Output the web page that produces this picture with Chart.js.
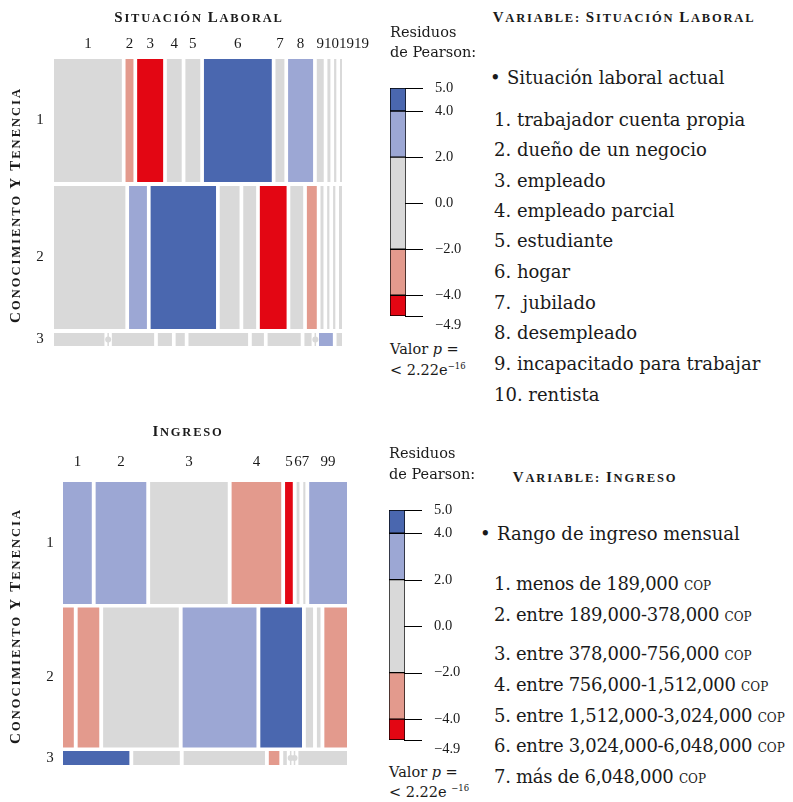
<!DOCTYPE html>
<html>
<head>
<meta charset="utf-8">
<script src="https://cdn.jsdelivr.net/npm/chart.js@4.4.0/dist/chart.umd.min.js"></script>
<style>
  body { margin: 0; background: #fff; width: 793px; height: 802px; position: relative; overflow: hidden;
         font-family: "DejaVu Serif", serif; color: #1a1a1a; }
  canvas { position: absolute; }
  .t { position: absolute; white-space: nowrap; line-height: 1; transform: translateY(-50%); }
  .tc { position: absolute; white-space: nowrap; line-height: 1; transform: translate(-50%, -50%); }
  .sc { font-family: "Liberation Serif", serif; font-weight: bold; font-size: 12.5px; letter-spacing: 1.8px; }
  .sc b { font-size: 15px; }
  .ytitle { position: absolute; white-space: nowrap; line-height: 1; font-family: "Liberation Serif", serif;
            font-weight: bold; font-size: 12.5px; letter-spacing: 2px;
            transform: translate(-50%, -50%) rotate(-90deg); }
  .ytitle b { font-size: 15px; }
  .item { font-size: 18px; }
  .money { letter-spacing: -0.3px; }
  .cop { font-size: 12px; letter-spacing: 0; }
  .leg { font-size: 14.5px; }
  .pv { font-size: 14.5px; }
  .pv sup { font-size: 8.5px; }
</style>
</head>
<body>
<canvas id="mosaicSit" width="380" height="400" style="left:0;top:0"></canvas>
<canvas id="legendSit" width="100" height="270" style="left:380px;top:70px"></canvas>
<canvas id="mosaicIng" width="370" height="390" style="left:0;top:410px"></canvas>
<canvas id="legendIng" width="100" height="270" style="left:379px;top:492px"></canvas>

<!-- top panel text -->
<div class="tc sc" style="left:199px;top:17px"><b>S</b>ITUACIÓN <b>L</b>ABORAL</div>
<div class="ytitle" style="left:15px;top:205px"><b>C</b>ONOCIMIENTO <b>Y</b> <b>T</b>ENENCIA</div>
<div class="t leg" style="left:390px;top:32px">Residuos</div>
<div class="t leg" style="left:390px;top:52px">de Pearson:</div>
<div class="t pv" style="left:390px;top:349px">Valor <i>p</i> =</div>
<div class="t pv" style="left:390px;top:370px">&lt; 2.22e<sup>−16</sup></div>
<div class="tc sc" style="left:624px;top:17px"><b>V</b>ARIABLE: <b>S</b>ITUACIÓN <b>L</b>ABORAL</div>
<div class="t item" style="left:490px;top:78px">•</div>
<div class="t item" style="left:507px;top:78px">Situación laboral actual</div>
<div class="t item" style="left:494px;top:120px">1. trabajador cuenta propia</div>
<div class="t item" style="left:494px;top:150px">2. dueño de un negocio</div>
<div class="t item" style="left:494px;top:181px">3. empleado</div>
<div class="t item" style="left:494px;top:211px">4. empleado parcial</div>
<div class="t item" style="left:494px;top:241px">5. estudiante</div>
<div class="t item" style="left:494px;top:272px">6. hogar</div>
<div class="t item" style="left:494px;top:303px">7.&nbsp; jubilado</div>
<div class="t item" style="left:494px;top:333px">8. desempleado</div>
<div class="t item" style="left:494px;top:364px">9. incapacitado para trabajar</div>
<div class="t item" style="left:494px;top:395px">10. rentista</div>

<!-- bottom panel text -->
<div class="tc sc" style="left:188px;top:431px"><b>I</b>NGRESO</div>
<div class="ytitle" style="left:15px;top:626px"><b>C</b>ONOCIMIENTO <b>Y</b> <b>T</b>ENENCIA</div>
<div class="t leg" style="left:389px;top:453px">Residuos</div>
<div class="t leg" style="left:389px;top:474px">de Pearson:</div>
<div class="t pv" style="left:389px;top:772px">Valor <i>p</i> =</div>
<div class="t pv" style="left:389px;top:792px">&lt; 2.22e <sup>−16</sup></div>
<div class="tc sc" style="left:595px;top:477px"><b>V</b>ARIABLE: <b>I</b>NGRESO</div>
<div class="t item" style="left:480px;top:534px">•</div>
<div class="t item" style="left:497px;top:534px">Rango de ingreso mensual</div>
<div class="t item money" style="left:494px;top:584px">1. menos de 189,000 <span class="cop">COP</span></div>
<div class="t item money" style="left:494px;top:615px">2. entre 189,000-378,000 <span class="cop">COP</span></div>
<div class="t item money" style="left:494px;top:654px">3. entre 378,000-756,000 <span class="cop">COP</span></div>
<div class="t item money" style="left:494px;top:685px">4. entre 756,000-1,512,000 <span class="cop">COP</span></div>
<div class="t item money" style="left:494px;top:716px">5. entre 1,512,000-3,024,000 <span class="cop">COP</span></div>
<div class="t item money" style="left:494px;top:746px">6. entre 3,024,000-6,048,000 <span class="cop">COP</span></div>
<div class="t item money" style="left:494px;top:777px">7. más de 6,048,000 <span class="cop">COP</span></div>

<script>
// shading scale for Pearson residuals
const legendBreaks = [-4.9, -4, -2, 2, 4, 5];
const legendFills = ['#e30613', '#e39a8d', '#d9d9d9', '#9ca7d4', '#4a67af'];
const legendTicks = [5, 4, 2, 0, -2, -4, -4.9];

// rows: conocimiento y tenencia
const conocRows = ['1', '2', '3'];

// situación laboral: column categories, row shares (%), within-row shares (%), residuals
const sitCols = ['1', '2', '3', '4', '5', '6', '7', '8', '9', '10', '19', '19'];
const sitRowShare = [44.1, 51.3, 4.7];
const sitRow1 = [27.4, 3.2, 10.5, 6.0, 6.0, 27.4, 3.6, 10.1, 2.8, 1.2, 0.9, 0.8];
const sitRow2 = [28.8, 7.2, 26.4, 8.0, 5.2, 10.8, 5.2, 4.0, 1.2, 0.9, 0.9, 1.2];
const sitRow3 = [20.4, 0, 17.1, 5.7, 3.7, 24.1, 4.9, 13.4, 2.9, 0, 5.6, 2.2];
const sitRes1 = [0.5, -2.5, -4.5, 1.0, 0.5, 4.5, -1.0, 3.0, 0.5, 0.3, 0.2, 0.2];
const sitRes2 = [-0.5, 2.5, 4.5, -1.0, -0.5, -4.5, 1.0, -3.0, -0.5, -0.3, -0.2, -0.2];
const sitRes3 = [0.5, -0.8, 0.5, 0.3, 0.2, -0.2, 0.3, 0.5, 0.3, -0.6, 3.0, 0.5];

// ingreso
const ingCols = ['1', '2', '3', '4', '5', '6', '7', '99'];
const ingRowShare = [44.2, 50.7, 5.1];
const ingRow1 = [11.2, 19.7, 30.2, 19.3, 3.0, 1.1, 0.8, 14.7];
const ingRow2 = [4.2, 8.4, 29.4, 28.7, 16.2, 2.8, 1.4, 8.8];
const ingRow3 = [25.8, 18.1, 31.6, 4.1, 1.4, 0, 0, 18.9];
const ingRes1 = [3.0, 3.0, 0.5, -3.0, -4.5, -0.5, -0.5, 3.0];
const ingRes2 = [-3.0, -3.0, -0.5, 3.0, 4.5, 0.5, 0.5, -3.0];
const ingRes3 = [4.5, 1.0, 0.5, -2.5, -0.5, -0.7, -0.5, 0.5];

const textColor = '#1a1a1a';
const zeroColor = '#d9d9d9';
const serif = '"Liberation Serif", "Times New Roman", serif';

function residColor(r) {
    for (let i = 0; i < legendFills.length; i++) {
        if (r <= legendBreaks[i + 1]) return legendFills[i];
    }
    return legendFills[legendFills.length - 1];
}

function fmtTick(v) {
    return v.toFixed(1).replace('-', '\u2212');
}

function makeMosaic(id, cols, rows, rowShare, props, resid, opts) {
    const datasets = [];
    const colCenters = [];
    const rowCenters = [];
    const shareSum = rowShare.reduce((a, b) => a + b, 0);
    const usableY = 1 - opts.gapY * (rows.length - 1);
    const usableX = 1 - opts.gapX * (cols.length - 1);
    let y0 = 0;

    rows.forEach((r, i) => {
        const y1 = y0 + rowShare[i] / shareSum * usableY;
        rowCenters.push((y0 + y1) / 2);
        const rowSum = props[i].reduce((a, b) => a + b, 0);
        let x0 = 0;
        props[i].forEach((p, j) => {
            const x1 = x0 + p / rowSum * usableX;
            if (i === 0) colCenters.push((x0 + x1) / 2);
            if (p === 0) {
                // empty cell: thin line with a dot
                datasets.push({
                    data: [{x: x0, y: y0}, {x: x0, y: (y0 + y1) / 2}, {x: x0, y: y1}],
                    borderColor: zeroColor,
                    borderWidth: 1.5,
                    pointRadius: c => c.dataIndex === 1 ? 3 : 0,
                    pointBackgroundColor: zeroColor,
                    pointBorderWidth: 0,
                    fill: false
                });
            } else {
                datasets.push({
                    data: [{x: x0, y: y0}, {x: x1, y: y0}, {x: x1, y: y1}, {x: x0, y: y1}],
                    backgroundColor: residColor(resid[i][j]),
                    borderColor: 'transparent',
                    borderWidth: 0,
                    pointRadius: 0,
                    fill: 'shape'
                });
            }
            x0 = x1 + opts.gapX;
        });
        y0 = y1 + opts.gapY;
    });

    const labelPlugin = {
        id: 'mosaicLabels',
        afterDraw(chart) {
            const {ctx, chartArea, scales: {x, y}} = chart;
            ctx.save();
            ctx.font = '15px ' + serif;
            ctx.fillStyle = textColor;
            ctx.textBaseline = 'middle';
            ctx.textAlign = 'left';
            // column labels, pushed right when they would overlap
            let prevRight = -Infinity;
            cols.forEach((c, j) => {
                const w = ctx.measureText(c).width;
                let left = x.getPixelForValue(colCenters[j]) - w / 2;
                if (left < prevRight) left = prevRight;
                ctx.fillText(c, left, chartArea.top - opts.colLabelOffset);
                prevRight = left + w;
            });
            ctx.textAlign = 'center';
            rows.forEach((r, i) => {
                ctx.fillText(r, chartArea.left - opts.rowLabelOffset, y.getPixelForValue(rowCenters[i]));
            });
            ctx.restore();
        }
    };

    return new Chart(document.getElementById(id), {
        type: 'line',
        data: {datasets},
        options: {
            responsive: false,
            animation: false,
            events: [],
            layout: {padding: opts.padding},
            elements: {line: {tension: 0}},
            plugins: {legend: {display: false}, tooltip: {enabled: false}},
            scales: {
                x: {type: 'linear', min: 0, max: 1, display: false},
                y: {type: 'linear', min: 0, max: 1, reverse: true, display: false}
            }
        },
        plugins: [labelPlugin]
    });
}

// tick marks to the right of the colour bar, placed by the y scale
const tickMarks = {
    id: 'tickMarks',
    afterDraw(chart) {
        const {ctx, chartArea, scales: {y}} = chart;
        ctx.save();
        ctx.strokeStyle = '#000';
        ctx.lineWidth = 1;
        y.ticks.forEach(t => {
            const py = Math.round(y.getPixelForValue(t.value)) + 0.5;
            ctx.beginPath();
            ctx.moveTo(chartArea.right - 1, py);
            ctx.lineTo(chartArea.right + 17, py);
            ctx.stroke();
        });
        ctx.restore();
    }
};

function makeLegend(id, padding) {
    const datasets = legendFills.map((col, i) => ({
        data: [[legendBreaks[i], legendBreaks[i + 1]]],
        backgroundColor: col,
        borderColor: '#000',
        borderWidth: 1,
        borderSkipped: false,
        grouped: false,
        barPercentage: 1,
        categoryPercentage: 1
    }));
    return new Chart(document.getElementById(id), {
        type: 'bar',
        data: {labels: [''], datasets},
        options: {
            responsive: false,
            animation: false,
            events: [],
            layout: {padding},
            plugins: {legend: {display: false}, tooltip: {enabled: false}},
            scales: {
                x: {display: false},
                y: {
                    position: 'right',
                    min: legendBreaks[0],
                    max: legendBreaks[legendBreaks.length - 1],
                    afterBuildTicks: s => { s.ticks = legendTicks.map(v => ({value: v})); },
                    // fixed axis width; labels may spill into the layout padding
                    afterFit: s => { s.width = 74; s.paddingTop = 0; s.paddingBottom = 0; },
                    border: {display: false},
                    grid: {display: false},
                    ticks: {
                        autoSkip: false,
                        padding: 21,
                        color: textColor,
                        font: {family: serif, size: 14.5},
                        callback: v => v === legendBreaks[0] ? ['', fmtTick(v)] : fmtTick(v)
                    }
                }
            }
        },
        plugins: [tickMarks]
    });
}

makeMosaic('mosaicSit', sitCols, conocRows, sitRowShare,
    [sitRow1, sitRow2, sitRow3], [sitRes1, sitRes2, sitRes3],
    {gapX: 3.7 / 288, gapY: 4 / 287, colLabelOffset: 15, rowLabelOffset: 14,
     padding: {left: 54, top: 59, right: 38, bottom: 54}});

makeMosaic('mosaicIng', ingCols, conocRows, ingRowShare,
    [ingRow1, ingRow2, ingRow3], [ingRes1, ingRes2, ingRes3],
    {gapX: 3.85 / 284, gapY: 3.5 / 283, colLabelOffset: 20, rowLabelOffset: 13,
     padding: {left: 63, top: 72, right: 23, bottom: 35}});

makeLegend('legendSit', {left: 10, top: 18, right: 0, bottom: 24});
makeLegend('legendIng', {left: 10, top: 18, right: 0, bottom: 22});
</script>
</body>
</html>
